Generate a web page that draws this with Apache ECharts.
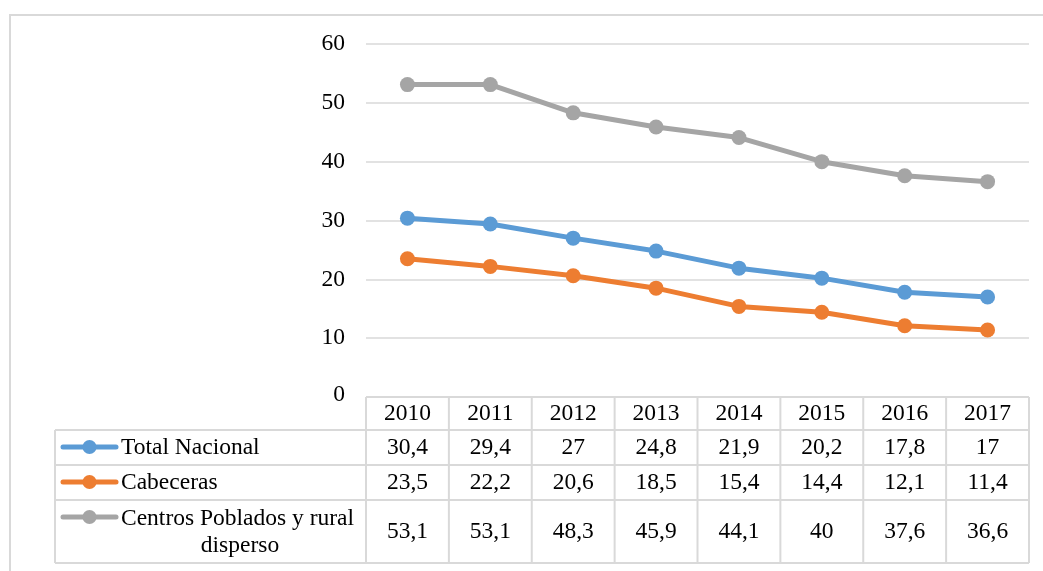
<!DOCTYPE html>
<html>
<head>
<meta charset="utf-8">
<script src="https://cdn.jsdelivr.net/npm/echarts@6/dist/echarts.min.js"></script>
<style>
html,body{margin:0;padding:0;background:#fff;}
#c{width:1043px;height:571px;}
</style>
</head>
<body>
<div id="c"></div>
<script>
const years = ['2010','2011','2012','2013','2014','2015','2016','2017'];
const seriesNames = ['Total Nacional','Cabeceras','Centros Poblados y rural disperso'];
const totalNacional = [30.4,29.4,27,24.8,21.9,20.2,17.8,17];
const cabeceras = [23.5,22.2,20.6,18.5,15.4,14.4,12.1,11.4];
const centrosPoblados = [53.1,53.1,48.3,45.9,44.1,40,37.6,36.6];
const yTicks = [0,10,20,30,40,50,60];

const colors = ['#5B9BD5','#ED7D31','#A5A5A5'];
const FONT = 'Liberation Serif, Times New Roman, serif';
const GRID = '#d9d9d9';
const FS = 23.5;

const chart = echarts.init(document.getElementById('c'), null, {renderer:'canvas'});
const allData = [totalNacional, cabeceras, centrosPoblados];

chart.setOption({
  animation:false,
  backgroundColor:'#fff',
  grid:{left:366,right:14,top:44,bottom:174},
  xAxis:{type:'category',data:years,boundaryGap:true,
    axisLine:{show:false},axisTick:{show:false},axisLabel:{show:false},splitLine:{show:false}},
  yAxis:{type:'value',min:yTicks[0],max:yTicks[yTicks.length-1],interval:10,
    axisLine:{show:false},axisTick:{show:false},
    axisLabel:{show:false},
    splitLine:{lineStyle:{color:GRID,width:1.5}}},
  series: allData.map((d,i)=>({
    name:seriesNames[i],type:'line',data:d,symbol:'circle',symbolSize:15,
    lineStyle:{color:colors[i],width:5},itemStyle:{color:colors[i]},
    z: 3 - i
  }))
});

const g = [];
const txt = (text,x,y,align)=>g.push({type:'text',silent:true,x:x,y:y,
  style:{text:text,x:0,y:0,font:FS+'px '+FONT,fill:'#000',align:align||'center',verticalAlign:'middle'}});
const ln = (x1,y1,x2,y2)=>g.push({type:'line',silent:true,shape:{x1,y1,x2,y2},style:{stroke:GRID,lineWidth:2}});

// y axis tick labels via the scale
yTicks.forEach(v=>txt(String(v), 345, chart.convertToPixel({yAxisIndex:0}, v) - (v===0?2:0), 'right'));

// Data table built from axis scale
const xs = years.map((_,i)=>chart.convertToPixel({xAxisIndex:0}, i));
const bw = xs[1]-xs[0];
const bounds = xs.map(x=>x-bw/2); bounds.push(xs[xs.length-1]+bw/2);
const tTop = chart.convertToPixel({yAxisIndex:0}, 0);
const rowLines = [tTop, 430, 465, 500, 563];
const rowCenters = [413.5, 448, 483, 532];
const tableLeft = 55;
// outer frame
g.push({type:'rect',silent:true,shape:{x:10,y:15,width:1060,height:620},style:{fill:null,stroke:GRID,lineWidth:2}});
ln(bounds[0], rowLines[0], bounds[bounds.length-1], rowLines[0]);
for (let r=1;r<rowLines.length;r++) ln(tableLeft, rowLines[r], bounds[bounds.length-1], rowLines[r]);
bounds.forEach(x=>ln(x, rowLines[0], x, rowLines[rowLines.length-1]));
ln(tableLeft, rowLines[1], tableLeft, rowLines[rowLines.length-1]);
years.forEach((y,i)=>txt(y, xs[i], rowCenters[0]));
allData.forEach((d,r)=>d.forEach((v,i)=>txt(String(v).replace('.',','), xs[i], rowCenters[r+1])));
// legend keys
const keyY = [447, 482, 517];
seriesNames.forEach((n,r)=>{
  g.push({type:'line',silent:true,shape:{x1:63,y1:keyY[r],x2:116,y2:keyY[r]},style:{stroke:colors[r],lineWidth:5,lineCap:'round'}});
  g.push({type:'circle',silent:true,shape:{cx:89.5,cy:keyY[r],r:7},style:{fill:colors[r]}});
});
txt('Total Nacional', 121, 448, 'left');
txt('Cabeceras', 121, 483, 'left');
txt('Centros Poblados y rural', 121, 518.5, 'left');
txt('disperso', 240, 545.5, 'center');
chart.setOption({graphic:{elements:g}});
</script>
</body>
</html>
